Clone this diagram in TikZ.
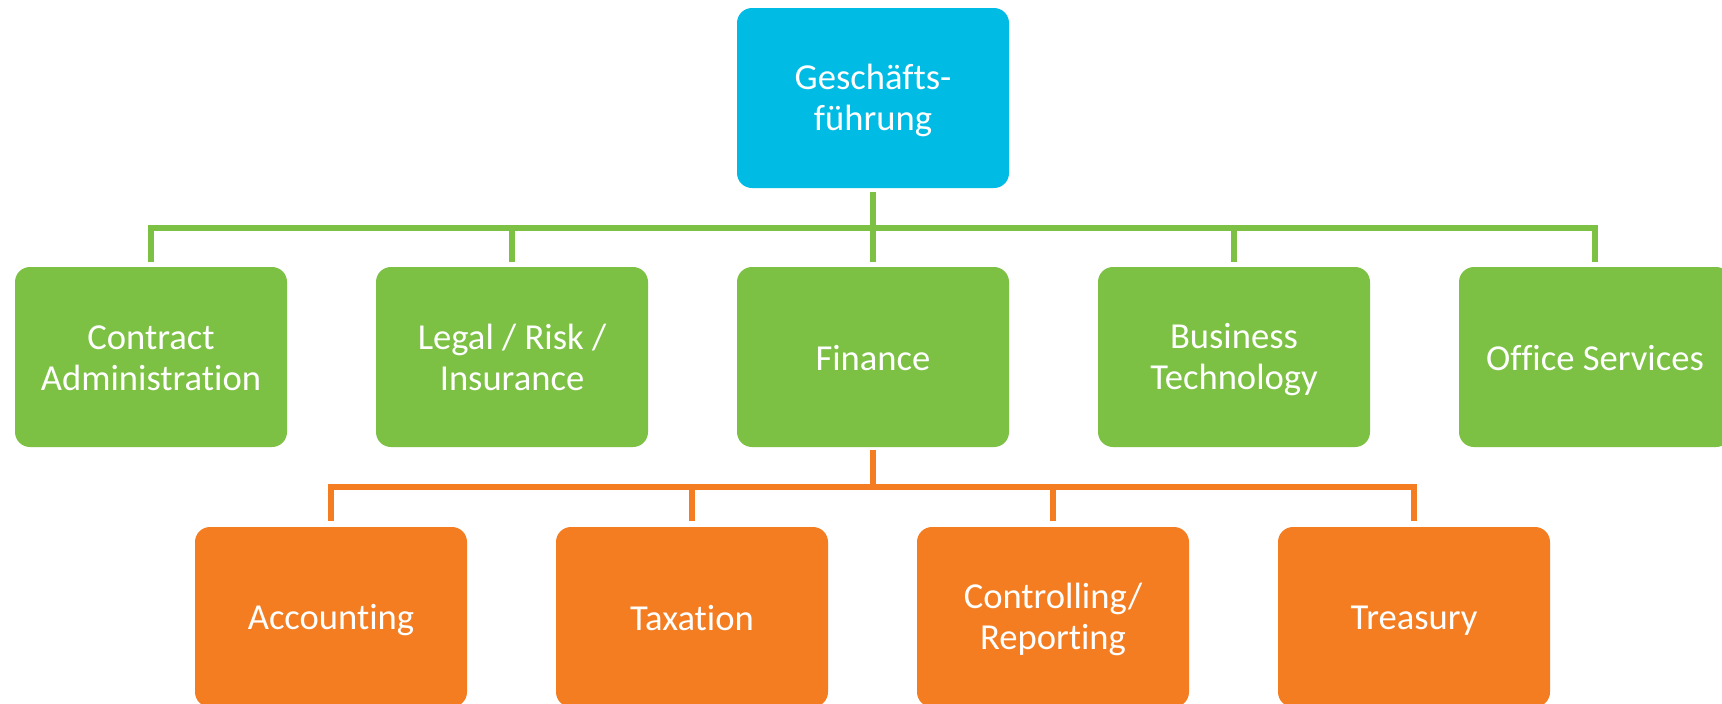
\documentclass[tikz,border=0pt]{standalone}
\usepackage{fontspec}
\setmainfont[Ligatures={NoCommon}]{Carlito}
\definecolor{topcyan}{HTML}{00BCE4}
\definecolor{boxgreen}{HTML}{7CC143}
\definecolor{boxorange}{HTML}{F47D22}
\newcommand\boxstrut{\rule[-2.1pt]{0pt}{17.9pt}}
\newcommand\tl{\rule{0pt}{15pt}}
\begin{document}
\begin{tikzpicture}[x=0.5pt,y=-0.5pt,
  orgbox/.style={rounded corners=7.5pt, minimum width=136pt, minimum height=90pt,
    inner sep=0pt, align=center, text=white,
    font=\fontsize{18.3pt}{20.7pt}\selectfont,
    execute at begin node=\boxstrut, execute at end node=\boxstrut},
  topbox/.style={orgbox, fill=topcyan},
  greenbox/.style={orgbox, fill=boxgreen},
  orangebox/.style={orgbox, fill=boxorange},
  gline/.style={draw=boxgreen, line width=3pt, line join=miter},
  oline/.style={draw=boxorange, line width=3pt, line join=miter}]
\useasboundingbox (0,0) rectangle (1722,703);
\fill[white] (0,0) rectangle (1722,703);
% top
\node[topbox] (gf) at (873,98) {\tl Geschäfts-\\führung};
% green row
\node[greenbox] (ca) at (151,357) {\tl Contract\\Administration};
\node[greenbox] (lri) at (512,357) {\tl Legal / Risk /\\Insurance};
\node[greenbox] (fin) at (873,357) {Finance};
\node[greenbox] (bt) at (1234,357) {\tl Business\\Technology};
\node[greenbox] (os) at (1595,357) {Office Services};
% orange row
\node[orangebox] (acc) at (331,617) {Accounting};
\node[orangebox] (tax) at (692,617) {Taxation};
\node[orangebox] (ctr) at (1053,617) {\tl Controlling/\\Reporting};
\node[orangebox] (tre) at (1414,617) {Treasury};
% bus coordinates
\coordinate (gbus) at (873,228);
\coordinate (obus) at (873,487);
% green connectors
\draw[gline] ([yshift=-2pt]gf.south) -- ([yshift=2.5pt]fin.north);
\draw[gline] ([yshift=2.5pt]ca.north) |- (os.north |- gbus) -- ([yshift=2.5pt]os.north);
\draw[gline] (lri.north |- gbus) -- ([yshift=2.5pt]lri.north);
\draw[gline] (bt.north |- gbus) -- ([yshift=2.5pt]bt.north);
% orange connectors
\draw[oline] ([yshift=-1.5pt]fin.south) -- (obus);
\draw[oline] ([yshift=3pt]acc.north) |- (tre.north |- obus) -- ([yshift=3pt]tre.north);
\draw[oline] (tax.north |- obus) -- ([yshift=3pt]tax.north);
\draw[oline] (ctr.north |- obus) -- ([yshift=3pt]ctr.north);
\end{tikzpicture}
\end{document}
